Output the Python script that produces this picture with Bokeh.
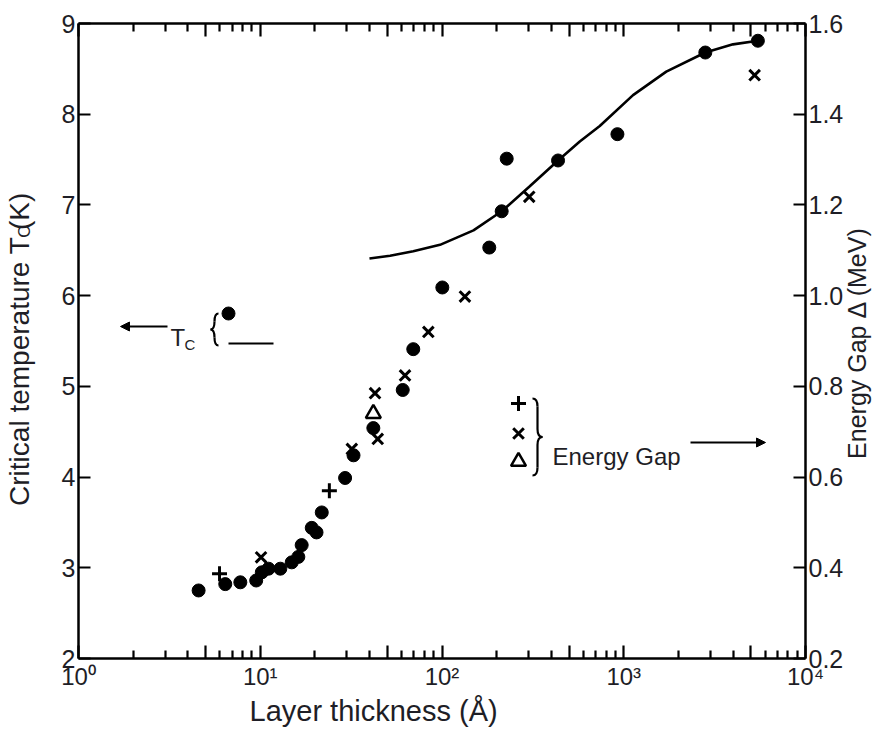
from math import pi
from bokeh.plotting import figure
from bokeh.models import (Range1d, LinearAxis, LogAxis, FixedTicker, PrintfTickFormatter,
                          Label, Arrow, NormalHead, Title)
from bokeh.embed import file_html
from bokeh.resources import INLINE

FONT = "Liberation Sans"
INK = "#1e1e26"

# ---------------- data ----------------
# critical temperature Tc (K) vs layer thickness (Angstrom), filled dots
tc_thickness = [4.58, 6.42, 7.77, 9.5, 10.2, 11.1, 12.9, 14.9, 16.2, 16.9, 19.2, 20.4,
                21.8, 29.3, 32.6, 41.9, 60.8, 69.5, 100.4, 182, 213, 227, 435, 923, 2810, 5470]
tc_kelvin = [2.75, 2.82, 2.84, 2.86, 2.95, 2.99, 2.99, 3.06, 3.12, 3.25, 3.44, 3.39,
             3.61, 3.99, 4.24, 4.54, 4.96, 5.41, 6.09, 6.53, 6.93, 7.51, 7.49, 7.78, 8.68, 8.81]

# solid curve (Tc)
fit_thickness = [39.9, 51.8, 69.5, 97.5, 149, 213, 302, 435, 573, 738, 1125, 1714, 2810, 3990, 5470]
fit_kelvin = [6.41, 6.44, 6.49, 6.56, 6.72, 6.93, 7.20, 7.49, 7.70, 7.87, 8.21, 8.47, 8.68, 8.77, 8.81]

# energy gap (MeV), three symbol sets
gap_plus_thickness = [5.97, 24.0]
gap_plus_mev = [0.387, 0.570]
gap_cross_thickness = [10.1, 31.9, 42.8, 44.3, 62.6, 84.1, 133.7, 302, 5250]
gap_cross_mev = [0.423, 0.662, 0.785, 0.684, 0.824, 0.920, 0.998, 1.218, 1.486]
gap_tri_thickness = [41.9]
gap_tri_mev = [0.740]

# ticks
tc_ticks = [2, 3, 4, 5, 6, 7, 8, 9]
gap_ticks = [0.2, 0.4, 0.6, 0.8, 1.0, 1.2, 1.4, 1.6]
x_decades = [1, 10, 100, 1000, 10000]
x_decade_labels = ["10\u2070", "10\u00b9", "10\u00b2", "10\u00b3", "10\u2074"]
x_halves = [5, 50, 500, 5000]

# ---------------- layout constants (pixels) ----------------
W, H = 888, 735
FR_L, FR_R, FR_T, FR_B = 78, 805, 23, 658      # frame edges in page pixels
SUB_C_AT = 6.705                               # Tc level of the subscript "C" in the left title
RIGHT_TITLE_START = 4.20                       # Tc level where the right title starts


def fx(px):   # page pixel -> thickness (annotation placement only)
    return 10 ** ((px - FR_L) / ((FR_R - FR_L) / 4))


def fy(py):   # page pixel -> Tc (annotation placement only)
    return 2 + (FR_B - py) / ((FR_B - FR_T) / 7)


# ---------------- figure ----------------
p = figure(width=W, height=H, x_axis_type="log",
           x_range=Range1d(1, 10000), y_range=Range1d(2, 9),
           output_backend="svg", toolbar_location=None,
           min_border_left=FR_L, min_border_right=W - FR_R,
           min_border_top=FR_T, min_border_bottom=H - FR_B)
p.extra_y_ranges = {"gap": Range1d(0.2, 1.6)}
p.grid.visible = False
p.outline_line_color = None
p.background_fill_color = "white"
p.border_fill_color = "white"

minor_x = [m * d for d in x_decades[:-1] for m in (2, 3, 4, 6, 7, 8, 9)]
tick_frame = FixedTicker(ticks=sorted(x_decades + x_halves), minor_ticks=minor_x)


def style_axis(ax, tick_in, minor_in=0):
    ax.axis_line_width = 2.5
    ax.axis_line_color = "black"
    ax.major_tick_in = tick_in
    ax.major_tick_out = 0
    ax.minor_tick_in = minor_in
    ax.minor_tick_out = 0
    ax.major_tick_line_width = 2.2
    ax.minor_tick_line_width = 2.2
    ax.major_tick_line_color = "black"
    ax.minor_tick_line_color = "black"
    ax.major_label_text_font = FONT
    ax.major_label_text_color = INK
    ax.axis_label_text_font = FONT
    ax.axis_label_text_font_style = "normal"
    ax.axis_label_text_color = INK


def hide_line_and_ticks(ax):
    ax.axis_line_color = None
    ax.major_tick_line_color = None
    ax.minor_tick_line_color = None


# bottom frame axis: ticks only
xb = p.xaxis[0]
xb.ticker = tick_frame
style_axis(xb, 13, 8)
xb.major_label_text_color = None
xb.major_label_standoff = 0

# bottom label axis (decade labels)
xl = LogAxis(ticker=FixedTicker(ticks=x_decades),
             major_label_overrides={d: s for d, s in zip(x_decades, x_decade_labels)})
style_axis(xl, 0, 0)
hide_line_and_ticks(xl)
xl.major_label_text_font_size = "24px"
xl.major_label_standoff = 4
p.add_layout(xl, "below")

xtitle = Title(text="Layer thickness  (\u00c5)", align="left", offset=171, standoff=0,
               text_font=FONT, text_font_size="29px", text_font_style="normal",
               text_color=INK)
p.add_layout(xtitle, "below")

# top frame axis
xt = LogAxis(ticker=tick_frame)
style_axis(xt, 13, 8)
xt.major_label_text_color = None
xt.major_label_standoff = 0
p.add_layout(xt, "above")

# left Tc axis
yl = p.yaxis[0]
yl.ticker = FixedTicker(ticks=tc_ticks)
style_axis(yl, 12)
yl.major_label_text_font_size = "25px"
yl.major_label_standoff = 3

# outer left axis carrying the title "Critical temperature T_C(K)"
yt = LinearAxis(ticker=FixedTicker(ticks=[SUB_C_AT]), major_label_overrides={SUB_C_AT: "C"})
style_axis(yt, 0, 0)
hide_line_and_ticks(yt)
yt.major_label_orientation = "vertical"
yt.major_label_text_font_size = "17px"
yt.major_label_standoff = 24
yt.axis_label = "Critical temperature T   (K)"
yt.axis_label_text_font_size = "28px"
yt.axis_label_standoff = -22
p.add_layout(yt, "left")

# right energy-gap axis
yr = LinearAxis(y_range_name="gap", ticker=FixedTicker(ticks=gap_ticks),
                formatter=PrintfTickFormatter(format="%.1f"))
style_axis(yr, 12)
yr.major_label_text_font_size = "25px"
yr.major_label_standoff = 3
p.add_layout(yr, "right")

# outer right axis carrying the title (reads bottom to top)
yrt = LinearAxis(ticker=FixedTicker(ticks=[RIGHT_TITLE_START]),
                 major_label_overrides={RIGHT_TITLE_START: "Energy Gap \u0394 (MeV)"})
style_axis(yrt, 0, 0)
hide_line_and_ticks(yrt)
yrt.major_label_orientation = pi / 2
yrt.major_label_text_font_size = "25px"
yrt.major_label_standoff = 11
p.add_layout(yrt, "right")

# ---------------- data marks ----------------
p.line(fit_thickness, fit_kelvin, line_width=2.6, line_color="black")
p.scatter(tc_thickness, tc_kelvin, marker="circle", size=13,
          fill_color="black", line_color="black")
p.scatter(gap_plus_thickness, gap_plus_mev, y_range_name="gap", marker="cross",
          size=15, line_width=3, line_color="black")
p.scatter(gap_cross_thickness, gap_cross_mev, y_range_name="gap", marker="x",
          size=15, line_width=3, line_color="black")
p.scatter(gap_tri_thickness, gap_tri_mev, y_range_name="gap", marker="triangle",
          size=15, line_width=2.5, line_color="black", fill_color=None)


# ---------------- in-plot keys ----------------
def lab(text, px, py, size, align="left", base="alphabetic"):
    p.add_layout(Label(x=fx(px), y=fy(py), text=text, text_font=FONT, text_font_size=size,
                       text_color=INK, text_align=align, text_baseline=base))


def arrow(px0, px1, py, head=True):
    p.add_layout(Arrow(end=NormalHead(size=9, fill_color="black", line_color="black") if head else None,
                       x_start=fx(px0), y_start=fy(py), x_end=fx(px1), y_end=fy(py),
                       line_width=2.2, line_color="black"))


def brace(xc, top, bottom, w, d):
    r = min(8, (bottom - top) / 4)
    ym = (top + bottom) / 2
    segs = [((xc - d * w, top), (xc, top + r), (xc, top)),
            ((xc, top + r), (xc, ym - r), (xc, (top + ym) / 2)),
            ((xc, ym - r), (xc + d * w, ym), (xc, ym)),
            ((xc + d * w, ym), (xc, ym + r), (xc, ym)),
            ((xc, ym + r), (xc, bottom - r), (xc, (ym + bottom) / 2)),
            ((xc, bottom - r), (xc - d * w, bottom), (xc, bottom))]
    p.quadratic(x0=[fx(s[0][0]) for s in segs], y0=[fy(s[0][1]) for s in segs],
                x1=[fx(s[1][0]) for s in segs], y1=[fy(s[1][1]) for s in segs],
                cx=[fx(s[2][0]) for s in segs], cy=[fy(s[2][1]) for s in segs],
                line_width=2.2, line_color="black")


# Tc key
arrow(167, 120, 326)
lab("T", 170, 337, "24px")
lab("C", 184, 344, "15px")
brace(214, 313, 345, 4, -1)
p.scatter([fx(228)], [fy(313)], marker="circle", size=13, fill_color="black", line_color="black")
arrow(228, 273, 343, head=False)

# energy gap key
p.scatter([fx(518)], [fy(403)], marker="cross", size=15, line_width=3, line_color="black")
p.scatter([fx(518)], [fy(433)], marker="x", size=15, line_width=3, line_color="black")
p.scatter([fx(518)], [fy(461)], marker="triangle", size=15, line_width=2.5,
          line_color="black", fill_color=None)
brace(537, 398, 475, 5, 1)
lab("Energy Gap", 552, 456, "24px")
arrow(690, 765, 442)

open("out.html", "w").write(file_html(p, INLINE))
